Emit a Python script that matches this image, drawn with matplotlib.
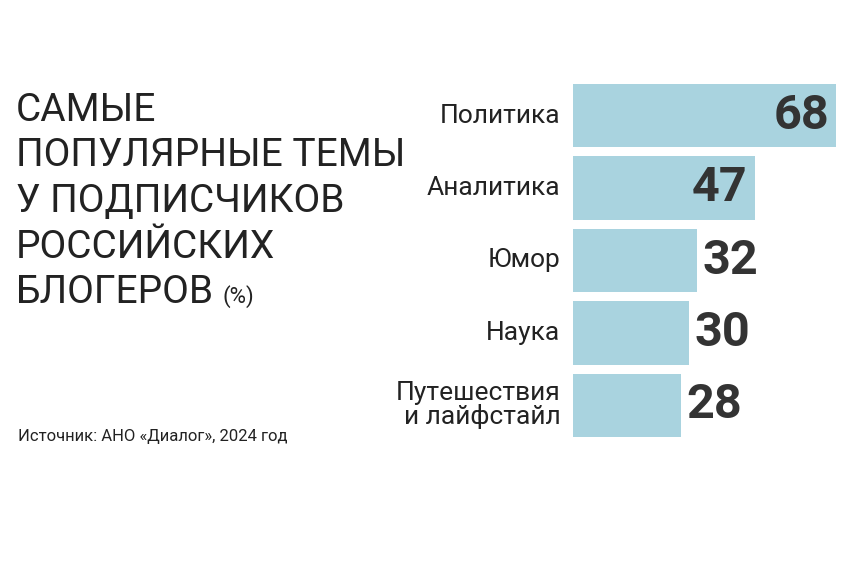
import matplotlib
matplotlib.use("Agg")
import matplotlib.pyplot as plt

categories = ["Политика", "Аналитика", "Юмор", "Наука", "Путешествия\nи лайфстайл"]
values = [68, 47, 32, 30, 28]
title_lines = ["САМЫЕ", "ПОПУЛЯРНЫЕ ТЕМЫ", "У ПОДПИСЧИКОВ", "РОССИЙСКИХ", "БЛОГЕРОВ"]
source = "Источник: АНО «Диалог», 2024 год"

FAM = ["Roboto", "DejaVu Sans"]
fig = plt.figure(figsize=(8.68, 5.76), dpi=100)
fig.patch.set_facecolor("white")
ax = fig.add_axes([573/868, (576-437)/576, 263/868, 353/576])
ys = list(range(len(values)))
ax.barh(ys, values, height=0.875, color="#a9d3df", left=0)
ax.set_xlim(0, 68)
ax.set_ylim(len(values) - 1 + 0.4375, -0.4375)
ax.axis("off")
for y, v, c in zip(ys, values, categories):
    ax.annotate(c, (0, y), xytext=(-9, 0), textcoords="offset points",
                ha="right", va="center", fontsize=19, color="#222",
                family=FAM, linespacing=0.95)
    if v >= 40:
        ax.annotate(str(v), (v, y), xytext=(-5, 0), textcoords="offset points",
                    ha="right", va="center", fontsize=35, fontweight="bold",
                    color="#333", family=FAM)
    else:
        ax.annotate(str(v), (v, y), xytext=(4, 0), textcoords="offset points",
                    ha="left", va="center", fontsize=35, fontweight="bold",
                    color="#333", family=FAM)

for i, line in enumerate(title_lines):
    fig.text(16/868, 1 - (121 + 45.5*i)/576, line, ha="left", va="baseline",
             fontsize=28, color="#222", family=FAM)
fig.text(222/868, 1 - 303/576, "(%)", ha="left", va="baseline", fontsize=16,
         color="#222", family=FAM)
fig.text(18/868, 1 - 437/576, source, ha="left", va="center", fontsize=12,
         color="#222", family=FAM)
fig.savefig("out.png", dpi=100)
